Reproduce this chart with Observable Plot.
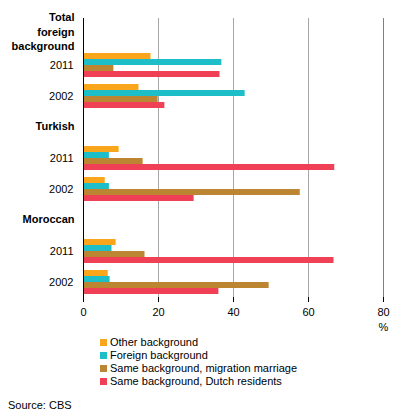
<!DOCTYPE html>
<html>
<head>
<meta charset="utf-8">
<script src="https://cdn.jsdelivr.net/npm/d3@7"></script>
<script src="https://cdn.jsdelivr.net/npm/@observablehq/plot@0.6"></script>
<style>
  body { margin: 0; background: #fff; font-family: "Liberation Sans", Arial, sans-serif; }
  #chart { width: 396px; }
  .legend { margin-left: 100px; font-size: 11px; line-height: 13px; color: #000; }
  .legend .item { display: flex; align-items: center; white-space: nowrap; }
  .legend .sw { width: 7px; height: 7px; margin-right: 3px; display: inline-block; }
  .source { margin-left: 8px; margin-top: 11px; font-size: 11px; line-height: 13px; color: #000; }
</style>
</head>
<body>
<div id="chart"></div>
<script>
const groups = ["Total foreign background", "Turkish", "Moroccan"];
const groupLabels = ["Total\nforeign\nbackground", "Turkish", "Moroccan"];
const years = ["2011", "2002"];
const series = ["Other background", "Foreign background", "Same background, migration marriage", "Same background, Dutch residents"];
const colors = ["#F9A61C", "#1EBEC8", "#BC8532", "#EF4056"];
// values in order: Total 2011, Total 2002, Turkish 2011, Turkish 2002, Moroccan 2011, Moroccan 2002
const otherBackground = [18.0, 14.8, 9.5, 5.8, 8.7, 6.6];
const foreignBackground = [36.9, 43.1, 6.9, 6.9, 7.6, 7.1];
const migrationMarriage = [8.1, 19.9, 15.9, 57.8, 16.4, 49.5];
const dutchResidents = [36.4, 21.7, 67.0, 29.5, 66.8, 36.1];
const xTicks = [0, 20, 40, 60, 80];

const seriesValues = [otherBackground, foreignBackground, migrationMarriage, dutchResidents];

// Build rows: header row + one row per year for each group
const rows = [];
const headerRows = [];
const yearRows = [];
groups.forEach((g, gi) => {
  rows.push(g);
  headerRows.push({row: g, label: groupLabels[gi], multi: groupLabels[gi].includes("\n")});
  years.forEach(y => {
    const key = g + " " + y;
    rows.push(key);
    yearRows.push({row: key, label: y});
  });
});

const table = [];
groups.forEach((g, gi) => {
  years.forEach((y, yi) => {
    const idx = gi * years.length + yi;
    series.forEach((s, si) => {
      table.push({row: g + " " + y, series: s, value: seriesValues[si][idx]});
    });
  });
});

const chart = Plot.plot({
  width: 396,
  height: 336,
  marginLeft: 83,
  marginRight: 13,
  marginTop: 15,
  marginBottom: 37,
  style: {fontFamily: "'Liberation Sans', Arial, sans-serif", fontSize: "11px", color: "#000", background: "#fff"},
  x: {domain: [0, 80], axis: null},
  y: {domain: series, paddingInner: 0, paddingOuter: 0.42, axis: null},
  fy: {domain: rows, padding: 0, axis: null},
  color: {domain: series, range: colors},
  marks: [
    Plot.ruleX([20, 40, 60], {stroke: "#a6a6a6", strokeWidth: 1}),
    Plot.ruleX([80], {stroke: "#808080", strokeWidth: 1}),
    Plot.barX(table, {x: "value", y: "series", fy: "row", fill: "series"}),
    Plot.ruleX([0], {stroke: "#000", strokeWidth: 1}),
    Plot.text(yearRows, {fy: "row", text: "label", frameAnchor: "left", textAnchor: "end", dx: -10, fill: "#000"}),
    Plot.text(headerRows.filter(d => d.multi), {fy: "row", text: "label", frameAnchor: "left", textAnchor: "end", dx: -9, dy: -3, fontWeight: "bold", lineHeight: 1.3, fill: "#000"}),
    Plot.text(headerRows.filter(d => !d.multi), {fy: "row", text: "label", frameAnchor: "left", textAnchor: "end", dx: -9, dy: -1, fontWeight: "bold", fill: "#000"}),
    Plot.axisX({anchor: "top", ticks: [], line: true, stroke: "#808080", tickSize: 0, label: null}),
    Plot.axisX({anchor: "bottom", ticks: xTicks, line: true, stroke: "#000", tickSize: 5, tickPadding: 6, label: null, fill: "#000"}),
    Plot.text(["%"], {fy: () => rows[rows.length - 1], x: () => 80, frameAnchor: "bottom", dy: 33, fill: "#000"})
  ]
});

const container = document.getElementById("chart");
container.appendChild(chart);

const legend = document.createElement("div");
legend.className = "legend";
series.forEach((s, i) => {
  const item = document.createElement("div");
  item.className = "item";
  const sw = document.createElement("span");
  sw.className = "sw";
  sw.style.background = colors[i];
  const t = document.createElement("span");
  t.textContent = s;
  item.appendChild(sw);
  item.appendChild(t);
  legend.appendChild(item);
});
container.appendChild(legend);

const source = document.createElement("div");
source.className = "source";
source.textContent = "Source: CBS";
container.appendChild(source);
</script>
</body>
</html>
